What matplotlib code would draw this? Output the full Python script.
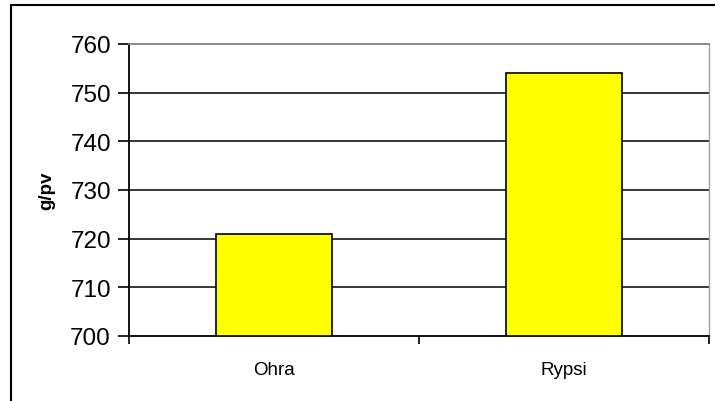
import matplotlib.pyplot as plt
from matplotlib.patches import Rectangle

categories = ['Ohra', 'Rypsi']
values = [721, 754]
y_ticks = [700, 710, 720, 730, 740, 750, 760]

plt.rcParams['font.family'] = ['Liberation Sans', 'DejaVu Sans']

fig = plt.figure(figsize=(7.15, 4.02), dpi=100)
W, H = 715, 402
ax = fig.add_axes([129 / W, 1 - 337 / H, 580 / W, 292 / H])

x = [0.5, 1.5]
ax.bar(x, [v - 700 for v in values], bottom=700, width=0.4,
       color='#ffff00', edgecolor='black', linewidth=1.2, zorder=3)

ax.set_xlim(0, 2)
ax.set_ylim(700, 760)
ax.set_yticks(y_ticks)
ax.set_yticklabels([str(t) for t in y_ticks], fontsize=17.5)
for t in y_ticks[1:-1]:
    ax.axhline(t, color='black', linewidth=1.1, zorder=1)

# category ticks at the boundaries, labels centered under bars
ax.set_xticks([0, 1, 2])
ax.set_xticklabels([])
ax.set_xticks(x, minor=True)
ax.set_xticklabels(categories, minor=True, fontsize=13.5)
ax.tick_params(axis='x', which='minor', length=0, pad=18)
ax.tick_params(axis='x', which='major', direction='out', length=6, width=1.2)
ax.tick_params(axis='y', direction='out', length=8, width=1.2, pad=5)

ax.spines['left'].set_color('black')
ax.spines['left'].set_linewidth(1.3)
ax.spines['bottom'].set_color('black')
ax.spines['bottom'].set_linewidth(1.3)
ax.spines['top'].set_color('#808080')
ax.spines['top'].set_linewidth(1.3)
ax.spines['right'].set_color('#a0a0a0')
ax.spines['right'].set_linewidth(1.0)

fig.text(47 / W, 1 - 191 / H, 'g/pv', rotation=90, fontsize=13.5,
         fontweight='bold', ha='center', va='center')

# outer chart frame
fig.patches.append(Rectangle((11 / W, -0.1), 1.2, 1 - 6 / H + 0.1,
                             transform=fig.transFigure, fill=False,
                             edgecolor='black', linewidth=1.5))

fig.savefig('out.png', dpi=100)
